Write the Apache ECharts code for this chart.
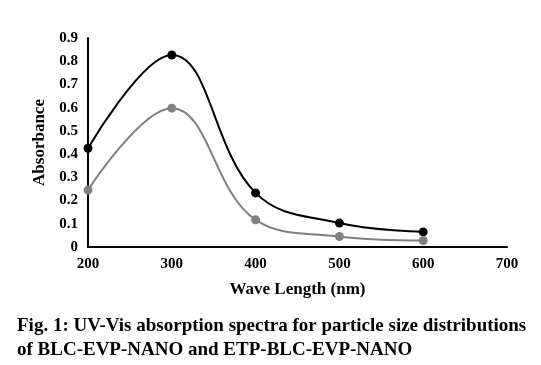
<!DOCTYPE html>
<html><head><meta charset="utf-8">
<script src="https://cdn.jsdelivr.net/npm/echarts@6/dist/echarts.min.js"></script>
<style>html,body{margin:0;padding:0;background:#fff}#c{width:541px;height:365px}</style>
</head><body><div id="c"></div>
<script>
var wavelengths = [200, 300, 400, 500, 600];
var blcEvpNano = [0.425, 0.827, 0.233, 0.103, 0.065];
var etpBlcEvpNano = [0.245, 0.598, 0.117, 0.045, 0.028];
var captionLines = ['Fig. 1: UV-Vis absorption spectra for particle size distributions', 'of BLC-EVP-NANO and ETP-BLC-EVP-NANO'];
var font = 'Liberation Serif';
function pairs(xs, ys){ return xs.map(function(x,i){ return [x, ys[i]]; }); }
var chart = echarts.init(document.getElementById('c'));
chart.setOption({
  animation: false,
  backgroundColor: '#fff',
  title: {
    text: captionLines.join('\n'), left: 12, top: 309,
    textStyle: {fontFamily: font, fontWeight: 'bold', fontSize: 19, color: '#000', lineHeight: 24}
  },
  grid: {left: 88, right: 34, top: 38, bottom: 118},
  xAxis: {
    type: 'value', min: 200, max: 700, interval: 100,
    name: 'Wave Length (nm)', nameLocation: 'middle', nameGap: 34,
    nameTextStyle: {fontFamily: font, fontWeight: 'bold', fontSize: 17, color: '#000'},
    axisLine: {lineStyle: {color: '#000', width: 2}},
    axisTick: {show: false}, splitLine: {show: false},
    axisLabel: {fontFamily: font, fontWeight: 'bold', fontSize: 15, color: '#000', margin: 10}
  },
  yAxis: {
    type: 'value', min: 0, max: 0.9, interval: 0.1,
    name: 'Absorbance', nameLocation: 'middle', nameGap: 38,
    nameTextStyle: {fontFamily: font, fontWeight: 'bold', fontSize: 17, color: '#000'},
    axisLine: {show: true, lineStyle: {color: '#000', width: 2}},
    axisTick: {show: false}, splitLine: {show: false},
    axisLabel: {fontFamily: font, fontWeight: 'bold', fontSize: 15, color: '#000', margin: 10,
      formatter: function(v){ return v === 0 ? '0' : v.toFixed(1); }}
  },
  series: [
    {type: 'line', name: 'BLC-EVP-NANO', data: pairs(wavelengths, blcEvpNano), smooth: 0.4,
     symbol: 'circle', symbolSize: 9, lineStyle: {color: '#000', width: 2}, itemStyle: {color: '#000'}},
    {type: 'line', name: 'ETP-BLC-EVP-NANO', data: pairs(wavelengths, etpBlcEvpNano), smooth: 0.4,
     symbol: 'circle', symbolSize: 9, lineStyle: {color: '#808080', width: 2}, itemStyle: {color: '#808080'}}
  ]
});
</script></body></html>
